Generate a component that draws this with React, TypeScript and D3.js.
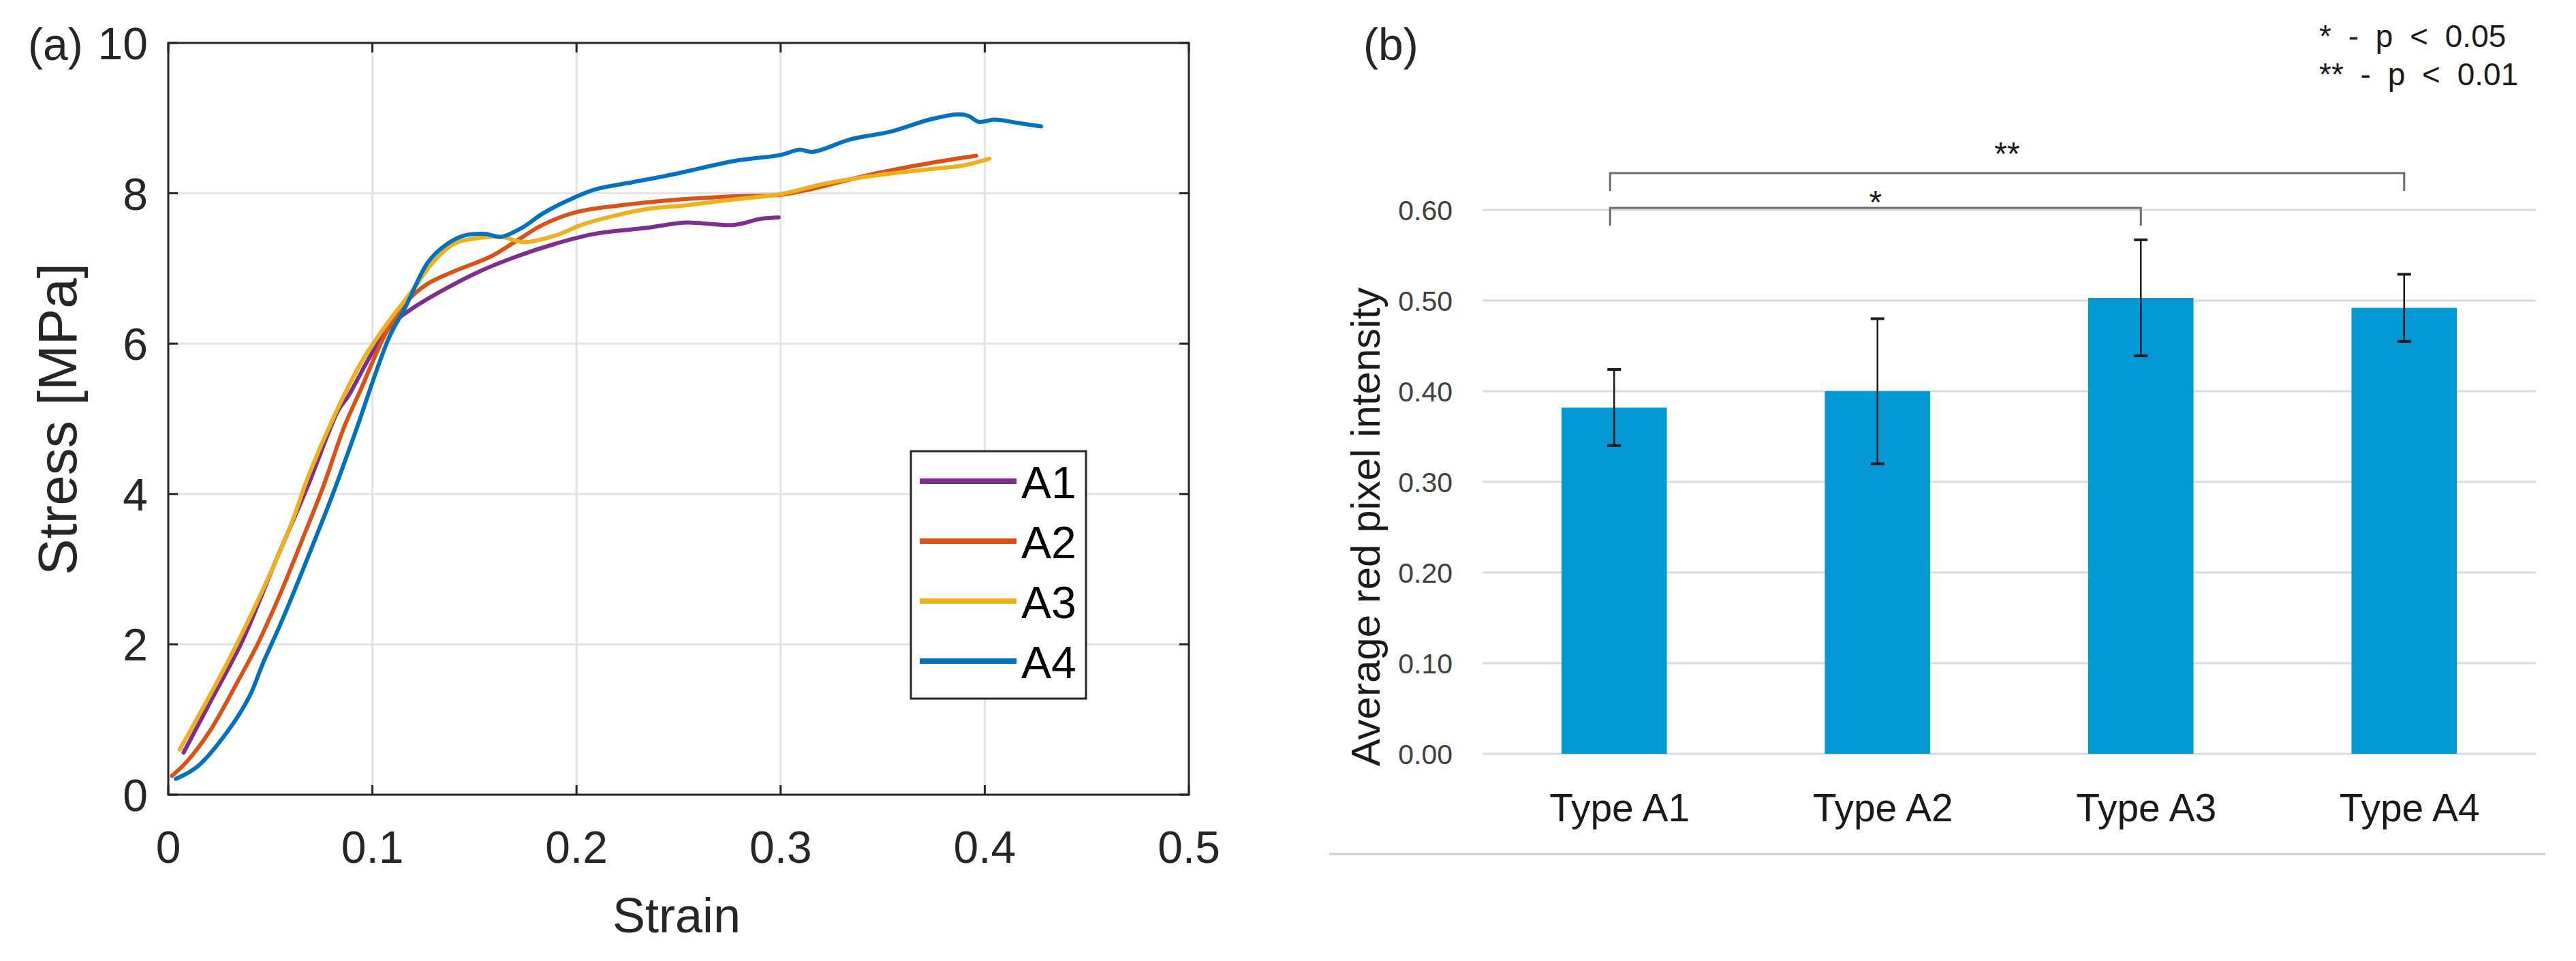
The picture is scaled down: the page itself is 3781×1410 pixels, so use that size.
import * as d3 from "d3";

// ── Data ──────────────────────────────────────────────────────────────────────

// (a) stress–strain curves, [strain, stress MPa]
const A1: [number, number][] = [
  [0.0075, 0.56], [0.0209, 1.25], [0.0362, 2.04], [0.0528, 3.12], [0.0681, 4.09],
  [0.0834, 5.12], [0.0879, 5.29], [0.1006, 5.91], [0.1108, 6.29], [0.1197, 6.47],
  [0.1325, 6.68], [0.1516, 6.95], [0.1707, 7.16], [0.1898, 7.33], [0.2089, 7.46],
  [0.2344, 7.54], [0.2535, 7.61], [0.2773, 7.58], [0.29, 7.66], [0.299, 7.68],
];
const A2: [number, number][] = [
  [0.0018, 0.25], [0.0094, 0.45], [0.0209, 0.87], [0.0337, 1.49], [0.0439, 2.01],
  [0.0553, 2.7], [0.0656, 3.39], [0.0758, 4.09], [0.086, 4.88], [0.0943, 5.39],
  [0.107, 6.16], [0.1172, 6.57], [0.1261, 6.78], [0.1389, 6.95], [0.158, 7.16],
  [0.1707, 7.37], [0.1834, 7.58], [0.2, 7.75], [0.2217, 7.84], [0.2471, 7.91],
  [0.2773, 7.96], [0.3, 7.98], [0.3155, 8.06], [0.341, 8.23], [0.3665, 8.37],
  [0.3792, 8.43], [0.3958, 8.5],
];
const A3: [number, number][] = [
  [0.0056, 0.6], [0.0337, 2.01], [0.0592, 3.53], [0.0688, 4.25], [0.0815, 5.05],
  [0.0943, 5.74], [0.107, 6.26], [0.1197, 6.71], [0.1299, 7.09], [0.1401, 7.33],
  [0.1503, 7.4], [0.163, 7.42], [0.1745, 7.35], [0.1898, 7.44], [0.2025, 7.58],
  [0.2153, 7.68], [0.2344, 7.79], [0.2535, 7.84], [0.2773, 7.92], [0.3, 7.99],
  [0.3219, 8.13], [0.3474, 8.24], [0.3729, 8.32], [0.3894, 8.37], [0.4022, 8.46],
];
const A4: [number, number][] = [
  [0.0037, 0.21], [0.0145, 0.38], [0.0298, 0.87], [0.04, 1.32], [0.0464, 1.75],
  [0.0553, 2.29], [0.0668, 3.05], [0.0809, 4.02], [0.0911, 4.78], [0.1083, 6.09],
  [0.1159, 6.47], [0.1274, 7.09], [0.1363, 7.32], [0.1452, 7.44], [0.1554, 7.46],
  [0.163, 7.42], [0.1732, 7.54], [0.1834, 7.73], [0.1962, 7.91], [0.2089, 8.05],
  [0.228, 8.15], [0.2471, 8.25], [0.2773, 8.43], [0.3, 8.51], [0.3092, 8.58],
  [0.3155, 8.55], [0.3346, 8.72], [0.3538, 8.82], [0.3729, 8.98], [0.3869, 9.05],
  [0.392, 9.03], [0.3971, 8.95], [0.4047, 8.98], [0.4175, 8.93], [0.4276, 8.89],
];
const SERIES_NAMES = ["A1", "A2", "A3", "A4"];
const SERIES_DATA = [A1, A2, A3, A4];
const STRAIN_TICKS = [0, 0.1, 0.2, 0.3, 0.4, 0.5];
const STRESS_TICKS = [0, 2, 4, 6, 8, 10];

// (b) bar chart
const CATEGORIES = ["Type A1", "Type A2", "Type A3", "Type A4"];
const MEANS = [0.382, 0.4, 0.503, 0.492];
const ERRORS = [0.042, 0.08, 0.064, 0.037];
const INTENSITY_TICKS = [0, 0.1, 0.2, 0.3, 0.4, 0.5, 0.6];
const SIGNIFICANCE = [
  { from: 0, to: 3, label: "**" },
  { from: 0, to: 2, label: "*" },
];
const P_LEGEND = ["* - p < 0.05", "** - p < 0.01"];

// ── Config ────────────────────────────────────────────────────────────────────

const W = 3781;
const H = 1410;
const FONT = "'Liberation Sans', Arial, Helvetica, sans-serif";
const COLORS = ["#7E2F8E", "#D95319", "#EDB120", "#0072BD"];
const AXIS_COLOR = "#262626";
const GRID_A = "#e3e3e3";
const BAR_COLOR = "#0399D4";
const GRID_B = "#d9d9d9";

const PA = { left: 247, right: 1745, top: 63, bottom: 1166 };
const PB = { left: 2176, right: 3722, top: 308, bottom: 1106 };
const BRACKET_Y = [254, 305];
const BRACKET_DROP = 26;
const BRACKET_LABEL_Y = [242, 313];

// ── Component ─────────────────────────────────────────────────────────────────

export default function App() {
  // (a) scales
  const xA = d3.scaleLinear().domain([0, 0.5]).range([PA.left, PA.right]);
  const yA = d3.scaleLinear().domain([0, 10]).range([PA.bottom, PA.top]);
  const line = d3
    .line<[number, number]>()
    .x((d) => xA(d[0]))
    .y((d) => yA(d[1]))
    .curve(d3.curveCatmullRom.alpha(0.5));
  const legendY = d3.scalePoint<string>().domain(SERIES_NAMES).range([706, 970]);
  const tickLen = 14;

  // (b) scales
  const xB = d3
    .scaleBand<string>()
    .domain(CATEGORIES)
    .range([PB.left, PB.right])
    .paddingInner(0.6)
    .paddingOuter(0.3);
  const yB = d3.scaleLinear().domain([0, 0.6]).range([PB.bottom, PB.top]);
  const cx = (i: number) => (xB(CATEGORIES[i]) ?? 0) + xB.bandwidth() / 2;

  return (
    <svg
      width={W}
      height={H}
      style={{ position: "absolute", left: 0, top: 0, background: "#fff" }}
      fontFamily={FONT}
    >
      <rect width={W} height={H} fill="#fff" />

      {/* ── Panel (a) ── */}
      <g>
        {/* grid */}
        {STRAIN_TICKS.slice(1, -1).map((t) => (
          <line key={"gx" + t} x1={xA(t)} x2={xA(t)} y1={PA.top} y2={PA.bottom}
            stroke={GRID_A} strokeWidth={3} />
        ))}
        {STRESS_TICKS.slice(1, -1).map((t) => (
          <line key={"gy" + t} x1={PA.left} x2={PA.right} y1={yA(t)} y2={yA(t)}
            stroke={GRID_A} strokeWidth={3} />
        ))}

        {/* curves */}
        {SERIES_DATA.map((s, i) => (
          <path key={SERIES_NAMES[i]} d={line(s) ?? ""} fill="none"
            stroke={COLORS[i]} strokeWidth={6} strokeLinejoin="round" strokeLinecap="round" />
        ))}

        {/* ticks (inside, all four sides) */}
        {STRAIN_TICKS.map((t) => (
          <g key={"tx" + t}>
            <line x1={xA(t)} x2={xA(t)} y1={PA.bottom} y2={PA.bottom - tickLen} stroke={AXIS_COLOR} strokeWidth={3} />
            <line x1={xA(t)} x2={xA(t)} y1={PA.top} y2={PA.top + tickLen} stroke={AXIS_COLOR} strokeWidth={3} />
            <text x={xA(t)} y={1266} textAnchor="middle" fontSize={66} fill={AXIS_COLOR}>
              {t === 0 ? "0" : t.toString()}
            </text>
          </g>
        ))}
        {STRESS_TICKS.map((t) => (
          <g key={"ty" + t}>
            <line x1={PA.left} x2={PA.left + tickLen} y1={yA(t)} y2={yA(t)} stroke={AXIS_COLOR} strokeWidth={3} />
            <line x1={PA.right} x2={PA.right - tickLen} y1={yA(t)} y2={yA(t)} stroke={AXIS_COLOR} strokeWidth={3} />
            <text x={217} y={yA(t) + 24} textAnchor="end" fontSize={66} fill={AXIS_COLOR}>
              {t}
            </text>
          </g>
        ))}

        {/* box */}
        <rect x={PA.left} y={PA.top} width={PA.right - PA.left} height={PA.bottom - PA.top}
          fill="none" stroke={AXIS_COLOR} strokeWidth={3} />

        {/* labels */}
        <text x={41} y={88} fontSize={66} fill={AXIS_COLOR}>(a)</text>
        <text x={993} y={1368} textAnchor="middle" fontSize={72} fill={AXIS_COLOR}>Strain</text>
        <text transform="translate(112,615) rotate(-90)" textAnchor="middle" fontSize={80} fill={AXIS_COLOR}>
          Stress [MPa]
        </text>

        {/* legend */}
        <rect x={1337} y={662} width={257} height={363} fill="#fff" stroke={AXIS_COLOR} strokeWidth={3} />
        {SERIES_NAMES.map((n, i) => (
          <g key={"lg" + n}>
            <line x1={1350} x2={1492} y1={legendY(n)} y2={legendY(n)} stroke={COLORS[i]} strokeWidth={8} />
            <text x={1499} y={(legendY(n) ?? 0) + 25} fontSize={66} fill="#000">{n}</text>
          </g>
        ))}
      </g>

      {/* ── Panel (b) ── */}
      <g>
        <text x={2001} y={88} fontSize={66} fill={AXIS_COLOR}>(b)</text>

        {INTENSITY_TICKS.map((t) => (
          <g key={"gb" + t}>
            <line x1={PB.left} x2={PB.right} y1={yB(t)} y2={yB(t)} stroke={GRID_B} strokeWidth={3} />
            <text x={2132} y={yB(t) + 15} textAnchor="end" fontSize={41} fill="#404040">
              {d3.format(".2f")(t)}
            </text>
          </g>
        ))}

        {/* bars */}
        {CATEGORIES.map((c, i) => (
          <rect key={"bar" + c} x={xB(c)} y={yB(MEANS[i])} width={xB.bandwidth()}
            height={yB(0) - yB(MEANS[i])} fill={BAR_COLOR} />
        ))}

        {/* error bars */}
        {CATEGORIES.map((c, i) => {
          const x = cx(i);
          const hi = yB(MEANS[i] + ERRORS[i]);
          const lo = yB(MEANS[i] - ERRORS[i]);
          return (
            <g key={"err" + c} stroke="#1a1a1a">
              <line x1={x} x2={x} y1={hi} y2={lo} strokeWidth={2.5} />
              <line x1={x - 10} x2={x + 10} y1={hi} y2={hi} strokeWidth={4} />
              <line x1={x - 10} x2={x + 10} y1={lo} y2={lo} strokeWidth={4} />
            </g>
          );
        })}

        {/* significance brackets */}
        {SIGNIFICANCE.map((s, k) => {
          const x1 = cx(s.from) - 6;
          const x2 = cx(s.to);
          const y = BRACKET_Y[k];
          return (
            <g key={"sig" + k}>
              <path d={`M${x1},${y + BRACKET_DROP}V${y}H${x2}V${y + BRACKET_DROP}`}
                fill="none" stroke="#6b6b6b" strokeWidth={3} />
              <text x={(x1 + x2) / 2} y={BRACKET_LABEL_Y[k]} textAnchor="middle" fontSize={48} fill="#1a1a1a">
                {s.label}
              </text>
            </g>
          );
        })}

        {/* category labels */}
        {CATEGORIES.map((c, i) => (
          <text key={"cat" + c} x={cx(i) + 8} y={1205} textAnchor="middle" fontSize={57} fill="#1a1a1a">
            {c}
          </text>
        ))}

        {/* y label */}
        <text transform="translate(2025,773) rotate(-90)" textAnchor="middle" fontSize={60} fill="#1a1a1a">
          Average red pixel intensity
        </text>

        {/* p-value legend */}
        {P_LEGEND.map((s, i) => (
          <text key={"p" + i} x={3404} y={69 + i * 56} fontSize={46} fill="#1a1a1a"
            style={{ wordSpacing: "12px" }}>
            {s}
          </text>
        ))}

        {/* bottom separator */}
        <line x1={1951} x2={3736} y1={1253} y2={1253} stroke="#cccccc" strokeWidth={3} />
      </g>
    </svg>
  );
}
